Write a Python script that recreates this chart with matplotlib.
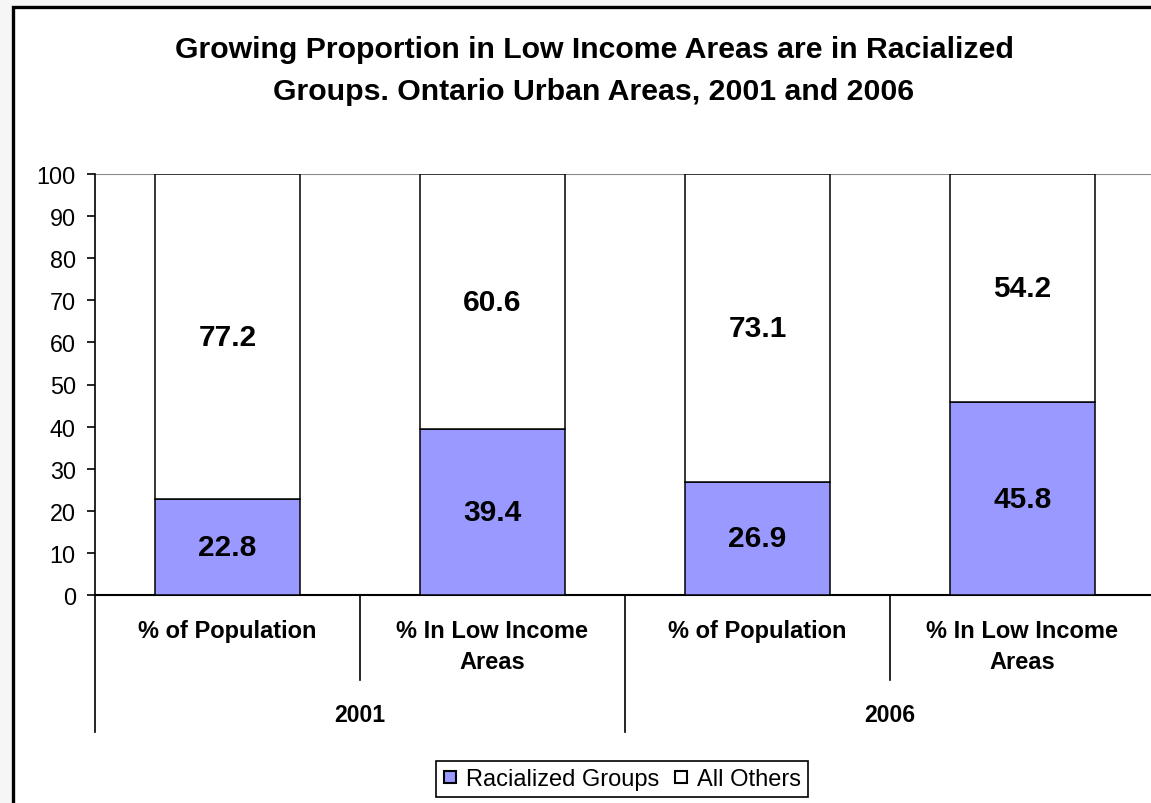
import matplotlib
matplotlib.use("Agg")
import matplotlib.pyplot as plt
from matplotlib.patches import Rectangle
from matplotlib.lines import Line2D

plt.rcParams['font.family'] = ['Liberation Sans', 'DejaVu Sans']

title = "Growing Proportion in Low Income Areas are in Racialized\nGroups. Ontario Urban Areas, 2001 and 2006"
categories = ["% of Population", "% In Low Income\nAreas", "% of Population", "% In Low Income\nAreas"]
years = ["2001", "2006"]
racialized = [22.8, 39.4, 26.9, 45.8]
others = [77.2, 60.6, 73.1, 54.2]
series_names = ["Racialized Groups", "All Others"]
yticks = list(range(0, 101, 10))

W, H = 1151, 804
fig = plt.figure(figsize=(W / 100, H / 100), dpi=100, facecolor='#f6f6f6')

# chart frame
fig.patches.append(Rectangle((13 / W, -0.1), 1.2, 1 - 8 / H + 0.1, transform=fig.transFigure,
                             facecolor='white', edgecolor='black', linewidth=2.4, zorder=-10))

ax_left, ax_right, ax_top, ax_bot = 95, 1155, 175, 596
ax = fig.add_axes([ax_left / W, 1 - ax_bot / H, (ax_right - ax_left) / W, (ax_bot - ax_top) / H])
ax.set_facecolor('none')

x = list(range(len(categories)))
bw = 0.55
ax.bar(x, racialized, width=bw, color='#9999FF', edgecolor='black', linewidth=1.1, zorder=3)
ax.bar(x, others, width=bw, bottom=racialized, color='white', edgecolor='black', linewidth=1.1, zorder=3)

for i in x:
    ax.text(i, racialized[i] / 2, f"{racialized[i]:.1f}", ha='center', va='center',
            fontsize=21.5, fontweight='bold', zorder=4)
    ax.text(i, racialized[i] + others[i] / 2, f"{others[i]:.1f}", ha='center', va='center',
            fontsize=21.5, fontweight='bold', zorder=4)

ax.set_xlim(-0.5, 3.5)
ax.set_ylim(0, 100)
ax.set_yticks(yticks)
ax.tick_params(axis='y', labelsize=16.8, direction='out', length=5.8, width=1.2, pad=8)
ax.set_xticks([])
ax.axhline(100, color='#888888', linewidth=1.5, zorder=1)
for s in ['top', 'right']:
    ax.spines[s].set_visible(False)
ax.spines['left'].set_linewidth(1.2)
ax.spines['bottom'].set_linewidth(1.5)

axh = ax_bot - ax_top
def yfrac(py):
    return -(py - ax_bot) / axh

trans = ax.get_xaxis_transform()
# category labels
for i, c in enumerate(categories):
    lines = c.split("\n")
    for j, ln in enumerate(lines):
        ax.text(i, yfrac(632 + 31 * j), ln, transform=trans, ha='center', va='center',
                fontsize=17, fontweight='bold', clip_on=False)
# category separators
for xs in [0.5, 2.5]:
    ax.add_line(Line2D([xs, xs], [0, yfrac(681)], transform=trans, color='black', linewidth=1.2, clip_on=False))
# year separators
for xs in [-0.5, 1.5, 3.5]:
    ax.add_line(Line2D([xs, xs], [0, yfrac(733)], transform=trans, color='black', linewidth=1.2, clip_on=False))
# year labels
for k, yr in enumerate(years):
    ax.text(2 * k + 0.5, yfrac(716), yr, transform=trans, ha='center', va='center',
            fontsize=16.6, fontweight='bold', clip_on=False)

fig.text(594 / W, 1 - 71 / H, title, ha='center', va='center', fontsize=21.8,
         fontweight='bold', linespacing=1.65)

handles = [Line2D([], [], linestyle='none', marker='s', markersize=8, markerfacecolor='#9999FF',
                  markeredgecolor='black', markeredgewidth=1.5),
           Line2D([], [], linestyle='none', marker='s', markersize=8, markerfacecolor='white',
                  markeredgecolor='black', markeredgewidth=1.5)]
leg = fig.legend(handles, series_names, loc='center', bbox_to_anchor=(622 / W, 1 - 780 / H),
                 ncol=2, fontsize=17, frameon=True, fancybox=False, edgecolor='black',
                 framealpha=1, handlelength=0.6, handletextpad=0.4, columnspacing=0.6,
                 borderpad=0.3, borderaxespad=0)
leg.get_frame().set_linewidth(1.2)

fig.savefig("out.png", dpi=100, facecolor=fig.get_facecolor())
